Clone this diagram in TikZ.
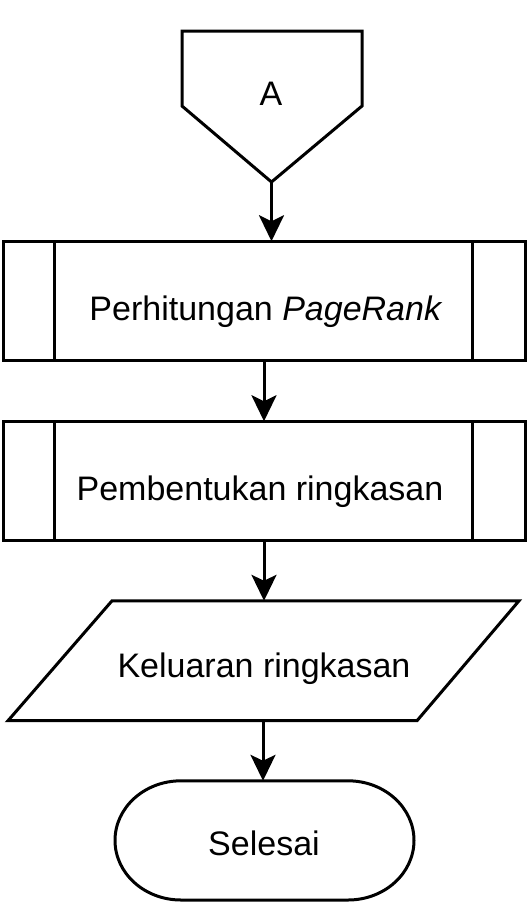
\documentclass[tikz,border=0pt]{standalone}
\usepackage{fontspec}
\setmainfont{Liberation Sans}
\usetikzlibrary{arrows.meta}
\begin{document}
\begin{tikzpicture}[x=1pt,y=-1pt,
  line width=3pt,
  shapeline/.style={draw=black,line width=3pt},
  pbox/.style={shapeline,rectangle,outer sep=0pt,minimum width=522pt,minimum height=119.5pt,inner sep=0pt},
  lbl/.style={anchor=base,inner sep=0pt,font=\fontsize{34}{40}\selectfont},
  flow/.style={draw=black,line width=3pt,-{Stealth[length=26pt,width=25pt,inset=6pt]}}
]
\useasboundingbox (0,0) rectangle (531,906);

% off-page connector A
\coordinate (Atop) at (272,31);
\coordinate (Abot) at (271.5,182);
\draw[shapeline] (182,31) -- (362,31) -- (362,106) -- (Abot) -- (182,106) -- cycle;
\node[lbl] (tA) at (271,105) {A};

% predefined process 1
\node[pbox] (b1) at (264,301) {};
\draw[shapeline] (54.7,241.25) -- (54.7,360.75);
\draw[shapeline] (472.3,241.25) -- (472.3,360.75);
\node[lbl] (t1) at (266,320) {Perhitungan \textit{PageRank}};

% predefined process 2
\node[pbox] (b2) at (264,481) {};
\draw[shapeline] (54.7,421.25) -- (54.7,540.75);
\draw[shapeline] (472.3,421.25) -- (472.3,540.75);
\node[lbl] (t2) at (260,500) {Pembentukan ringkasan};

% data (parallelogram)
\coordinate (Ptop) at (263,600.8);
\coordinate (Pbot) at (263,720.7);
\draw[shapeline] (112,600.8) -- (519,600.8) -- (417,720.7) -- (8,720.7) -- cycle;
\node[lbl] (t3) at (264,677) {Keluaran ringkasan};

% terminal
\coordinate (Ttop) at (263,780.8);
\draw[shapeline] (181,780.8) -- (348,780.8)
  arc[start angle=-90,end angle=90,x radius=66,y radius=59.6]
  -- (181,900) arc[start angle=90,end angle=270,x radius=66,y radius=59.6] -- cycle;
\node[lbl] (t4) at (264,855) {Selesai};

% connectors
\draw[flow] (Abot) -- (Abot |- b1.north);
\draw[flow] (b1.south) -- (b2.north);
\draw[flow] (b2.south) -- (b2.south |- Ptop);
\draw[flow] (Pbot) -- (Ttop);
\end{tikzpicture}
\end{document}
